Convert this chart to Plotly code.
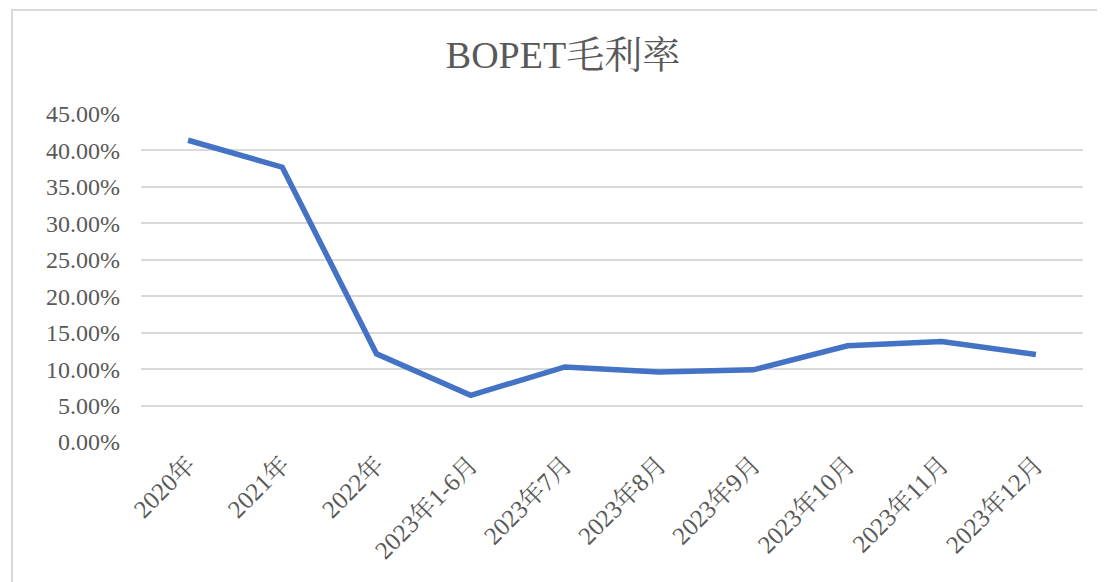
import plotly.graph_objects as go

categories = ["2020年", "2021年", "2022年", "2023年1-6月", "2023年7月", "2023年8月",
              "2023年9月", "2023年10月", "2023年11月", "2023年12月"]
margin_rate = [0.414, 0.377, 0.121, 0.064, 0.103, 0.096, 0.099, 0.132, 0.138, 0.120]
y_ticks = [0, 0.05, 0.10, 0.15, 0.20, 0.25, 0.30, 0.35, 0.40, 0.45]

W, H = 1105, 582
OFF = 8  # page body margin offset
L, R, T, B = 141 - OFF, 22 + OFF, 114 - OFF, 140 + OFF
pw, ph = W - L - R, H - T - B

serif = "Liberation Serif, Times New Roman, Noto Serif CJK SC, Noto Sans CJK SC, serif"

fig = go.Figure()
fig.add_trace(go.Scatter(
    x=categories, y=margin_rate, mode="lines",
    line=dict(color="#4472C4", width=5.5, shape="linear"),
    hoverinfo="skip", showlegend=False,
))

fig.update_layout(
    width=W, height=H,
    margin=dict(l=L, r=R, t=T, b=B, autoexpand=False),
    paper_bgcolor="white", plot_bgcolor="white",
    title=dict(text="BOPET毛利率", x=(563 - OFF - L) / pw, xref="paper", xanchor="center",
               y=(H - (55 - OFF)) / H, yanchor="middle",
               font=dict(family=serif, size=38, color="#595959")),
    xaxis=dict(type="category", tickangle=-45, showgrid=False, showline=False,
               ticks="", tickfont=dict(family=serif, size=25, color="#595959"),
               ticklabelstandoff=2,
               range=[-0.5, len(categories) - 0.5]),
    yaxis=dict(range=[0, 0.45], tickvals=y_ticks, tickformat=".2%",
               showgrid=True, gridcolor="#d9d9d9", gridwidth=1.5,
               zeroline=False, showline=False, ticks="", ticklen=0,
               ticklabelstandoff=20,
               tickfont=dict(family=serif, size=24, color="#595959")),
    shapes=[dict(type="rect", xref="paper", yref="paper",
                 x0=(12 - OFF - L) / pw, x1=(W + 20 - L) / pw,
                 y0=-(B + 20) / ph, y1=1 + (T - (10 - OFF)) / ph,
                 line=dict(color="#d9d9d9", width=2), fillcolor="rgba(0,0,0,0)",
                 layer="below")],
)

fig.write_html("out.html")
